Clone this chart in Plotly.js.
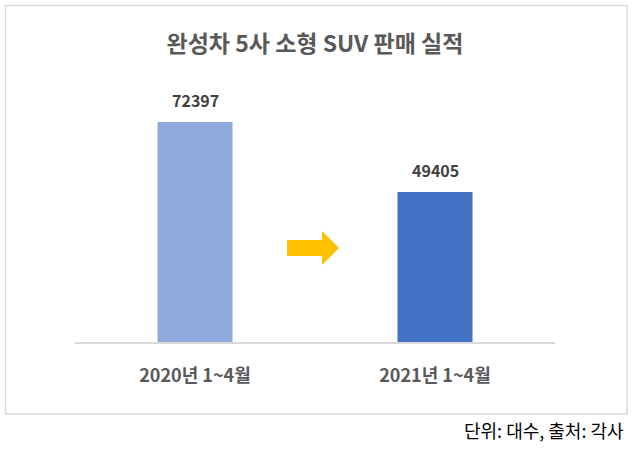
<!DOCTYPE html>
<html><head><meta charset="utf-8">
<script src="https://cdn.plot.ly/plotly-3.0.1.min.js"></script>
<style>body{margin:0;background:#fff}#c{width:640px;height:451px}</style>
</head><body><div id="c"></div>
<script>
const categories = ['2020년 1~4월', '2021년 1~4월'];
const values = [72397, 49405];
const barColors = ['#8FAADC', '#4472C4'];
const titleText = '완성차 5사 소형 SUV 판매 실적';
const noteText = '단위: 대수, 출처: 각사';

const W = 640, H = 451, mL = 75, mR = 85, mT = 99, mB = 109;
const pw = W - mL - mR, ph = H - mT - mB;
const px = x => (x - mL) / pw;
const py = y => (H - mB - y) / ph;
const font = '"Noto Sans CJK KR", "Noto Sans", sans-serif';

const arrow = [[287,240],[322,240],[322,231],[339,248],[322,265],[322,256],[287,256]];
const arrowPath = 'M' + arrow.map(p => px(p[0]).toFixed(4) + ',' + py(p[1]).toFixed(4)).join(' L') + ' Z';

const data = [{
  type: 'bar', x: categories, y: values,
  marker: {color: barColors},
  hoverinfo: 'none'
}];

const annotations = categories.map((c, i) => ({
  x: c, y: values[i], xref: 'x', yref: 'y', text: '<b>' + values[i] + '</b>',
  showarrow: false, yanchor: 'bottom', yshift: 8,
  font: {family: font, size: 16, color: '#404040'}
}));
annotations.push({
  xref: 'paper', yref: 'paper', x: px(626), y: py(430), xanchor: 'right', yanchor: 'middle',
  text: noteText, showarrow: false, font: {family: font, size: 18, color: '#000'}
});

const layout = {
  width: W, height: H,
  margin: {l: mL, r: mR, t: mT, b: mB, pad: 0},
  paper_bgcolor: '#fff', plot_bgcolor: '#fff',
  title: {text: '<b>' + titleText + '</b>', x: 0.5, xref: 'paper', xanchor: 'center',
    y: 1 - 44 / H, yanchor: 'middle', font: {family: font, size: 23, color: '#595959'}},
  bargap: 0.6875,
  showlegend: false,
  xaxis: {showline: true, linecolor: '#d9d9d9', linewidth: 1.5, ticks: '', showgrid: false,
    zeroline: false, tickfont: {family: font, size: 18, color: '#595959'},
    ticklabelstandoff: 17, tickprefix: '<b>', ticksuffix: '</b>', fixedrange: true},
  yaxis: {range: [0, 80000], visible: false, showgrid: false, zeroline: false, fixedrange: true},
  annotations: annotations,
  shapes: [
    {type: 'rect', xref: 'paper', yref: 'paper', x0: px(5.5), x1: px(627), y0: py(5.5), y1: py(414),
     line: {color: '#d9d9d9', width: 1.5}, fillcolor: 'rgba(0,0,0,0)', layer: 'below'},
    {type: 'path', xref: 'paper', yref: 'paper', path: arrowPath, fillcolor: '#FFC000',
     line: {width: 0}}
  ]
};
Plotly.newPlot('c', data, layout, {displayModeBar: false, staticPlot: true});
</script></body></html>
